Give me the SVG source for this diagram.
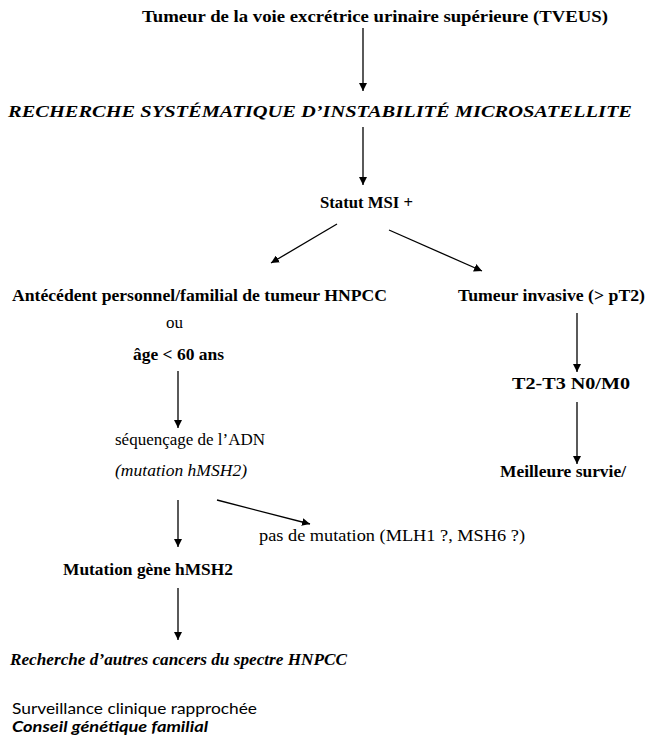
<svg xmlns="http://www.w3.org/2000/svg" width="647" height="743" viewBox="0 0 647 743">
<style>
text{font-family:"Liberation Serif","Times New Roman",serif;font-size:17px;fill:#000}
.b{font-weight:bold}
.i{font-style:italic}
.c{font-family:Lato,"Open Sans",sans-serif;font-size:16px}
line{stroke:#000;stroke-width:1.3}
</style>
<defs>
<marker id="ah" viewBox="0 0 10 10" refX="10" refY="5" markerWidth="8" markerHeight="8" markerUnits="userSpaceOnUse" orient="auto">
<path d="M0,0 L10,5 L0,10 z" fill="#000"/>
</marker>
</defs>
<g id="connectors">
<line x1="363" y1="28" x2="363" y2="91" marker-end="url(#ah)"/>
<line x1="363" y1="127" x2="363" y2="185" marker-end="url(#ah)"/>
<line x1="337" y1="224" x2="271" y2="263" marker-end="url(#ah)"/>
<line x1="389" y1="230" x2="482" y2="271" marker-end="url(#ah)"/>
<line x1="577" y1="313" x2="577" y2="372" marker-end="url(#ah)"/>
<line x1="577" y1="402" x2="577" y2="464" marker-end="url(#ah)"/>
<line x1="178" y1="371" x2="178" y2="428" marker-end="url(#ah)"/>
<line x1="178" y1="500" x2="178" y2="547" marker-end="url(#ah)"/>
<line x1="217" y1="500" x2="310" y2="524" marker-end="url(#ah)"/>
<line x1="178" y1="588" x2="178" y2="640" marker-end="url(#ah)"/>
</g>
<g id="n-tveus"><text class="b" x="142" y="22" textLength="466" lengthAdjust="spacingAndGlyphs">Tumeur de la voie excrétrice urinaire supérieure (TVEUS)</text></g>
<g id="n-recherche"><text class="b i" x="8" y="117" textLength="624" lengthAdjust="spacingAndGlyphs">RECHERCHE SYSTÉMATIQUE D’INSTABILITÉ MICROSATELLITE</text></g>
<g id="n-msi"><text class="b" x="320" y="208" textLength="93" lengthAdjust="spacingAndGlyphs">Statut MSI +</text></g>
<g id="n-antecedent"><text class="b" x="12" y="301" textLength="375" lengthAdjust="spacingAndGlyphs">Antécédent personnel/familial de tumeur HNPCC</text></g>
<g id="n-ou"><text x="166" y="328">ou</text></g>
<g id="n-age"><text class="b" x="133" y="360" textLength="91" lengthAdjust="spacingAndGlyphs">âge &lt; 60 ans</text></g>
<g id="n-invasive"><text class="b" x="458" y="301" textLength="187" lengthAdjust="spacingAndGlyphs">Tumeur invasive (&gt; pT2)</text></g>
<g id="n-t2t3"><text class="b" x="512" y="389" textLength="118" lengthAdjust="spacingAndGlyphs">T2-T3 N0/M0</text></g>
<g id="n-survie"><text class="b" x="500" y="477" textLength="126" lengthAdjust="spacingAndGlyphs">Meilleure survie/</text></g>
<g id="n-sequencage"><text x="115" y="445" textLength="150" lengthAdjust="spacingAndGlyphs">séquençage de l’ADN</text>
<text class="i" x="115" y="476" textLength="132" lengthAdjust="spacingAndGlyphs">(mutation hMSH2)</text></g>
<g id="n-pasmutation"><text x="259" y="541" textLength="266" lengthAdjust="spacingAndGlyphs">pas de mutation (MLH1 ?, MSH6 ?)</text></g>
<g id="n-mutation"><text class="b" x="63" y="575" textLength="170" lengthAdjust="spacingAndGlyphs">Mutation gène hMSH2</text></g>
<g id="n-cancers"><text class="b i" x="10" y="665" textLength="337" lengthAdjust="spacingAndGlyphs">Recherche d’autres cancers du spectre HNPCC</text></g>
<g id="n-surveillance"><text class="c" x="12" y="714" textLength="245" lengthAdjust="spacingAndGlyphs">Surveillance clinique rapprochée</text>
<text class="c b i" x="12" y="732" textLength="196" lengthAdjust="spacingAndGlyphs">Conseil génétique familial</text></g>
</svg>
